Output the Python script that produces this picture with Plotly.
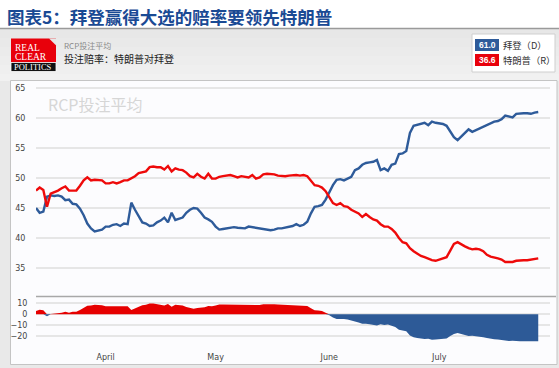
import numpy as np
import pandas as pd
import plotly.graph_objects as go

# ---------------- data ----------------
start_date = "2020-03-13"
biden = [
    45.0, 44.2, 44.4, 46.9, 47.1, 47.0, 47.1, 46.9, 46.3, 46.4,
    45.7, 45.6, 44.9, 43.8, 42.4, 41.6, 41.1, 41.3, 41.4, 41.9,
    41.9, 42.2, 42.3, 42.0, 42.4, 42.3, 45.9, 44.7, 43.7, 42.6,
    42.4, 42.0, 42.1, 42.6, 42.9, 43.4, 42.6, 44.2, 43.0, 43.2,
    43.4, 44.2, 44.7, 45.0, 44.9, 44.2, 43.4, 43.1, 42.7, 41.9,
    41.4, 41.5, 41.6, 41.7, 41.8, 41.7, 41.6, 41.6, 41.9, 41.8,
    41.7, 41.6, 41.4, 41.3, 41.3, 41.4, 41.6, 41.6, 41.7, 41.9,
    42.0, 42.3, 42.0, 42.2, 42.7, 44.1, 45.2, 45.3, 45.5, 46.4,
    47.6, 48.8, 49.7, 49.8, 49.6, 49.9, 50.2, 51.3, 51.6, 52.2,
    52.5, 52.6, 52.7, 53.0, 51.3, 51.6, 51.2, 52.2, 52.4, 54.0,
    54.1, 54.5, 57.5, 58.7, 58.9, 59.1, 59.2, 58.8, 59.4, 59.2,
    59.1, 59.0, 58.7, 57.7, 56.8, 56.3, 56.9, 57.6, 58.1, 57.7,
    58.0, 58.3, 58.6, 58.8, 59.2, 59.4, 59.5, 59.8, 60.4, 60.3,
    60.1, 60.7, 60.8, 60.8, 60.8, 60.7, 60.9, 61.0,
]
trump = [
    47.9, 48.4, 48.0, 45.2, 47.4, 47.6, 47.9, 48.3, 48.6, 47.9,
    47.9, 47.9, 48.7, 49.6, 50.1, 49.6, 49.7, 49.7, 49.6, 49.1,
    49.1, 49.3, 49.1, 49.3, 49.6, 49.6, 49.9, 50.3, 50.8, 50.9,
    51.1, 51.8, 51.9, 51.8, 51.8, 51.4, 52.0, 51.1, 51.6, 51.4,
    51.3, 50.9, 50.3, 50.1, 50.7, 50.2, 49.9, 50.7, 49.9, 49.9,
    50.2, 50.3, 50.4, 50.5, 50.3, 50.1, 50.3, 50.2, 50.1, 50.5,
    49.9, 50.1, 50.6, 50.7, 50.7, 50.6, 50.4, 50.3, 50.3, 50.4,
    50.5, 50.5, 50.4, 50.5, 50.3, 49.6, 48.8, 48.7, 48.4, 47.8,
    46.7, 45.8, 45.5, 45.8, 45.3, 45.2, 44.7, 44.4, 44.1, 43.5,
    44.0, 43.5, 43.1, 42.9, 42.3, 41.9, 41.9, 41.5, 40.9, 40.0,
    39.3, 39.1, 38.3, 37.8, 37.4, 37.0, 36.8, 36.5, 36.3, 36.2,
    36.4, 36.6, 36.8, 37.9, 39.0, 39.3, 38.9, 38.6, 38.3, 38.1,
    38.2, 38.1, 37.8, 37.2, 36.9, 36.8, 36.6, 36.4, 36.0, 36.0,
    36.0, 36.2, 36.3, 36.3, 36.3, 36.4, 36.5, 36.6,
]
month_ticks = ["2020-04-01", "2020-05-01", "2020-06-01", "2020-07-01"]
month_labels = ["April", "May", "June", "July"]
main_ticks = [35, 40, 45, 50, 55, 60, 65]
spread_ticks = [-20, -10, 0, 10]
latest_biden = "61.0"
latest_trump = "36.6"

dates = pd.date_range(start_date, periods=len(biden), freq="D")
spread = np.array(trump) - np.array(biden)
spread_pos = np.maximum(spread, 0)
spread_neg = np.minimum(spread, 0)

# ---------------- styling ----------------
W, H = 559, 368
BLUE = "#2E5B9A"
RED = "#EE0A0A"
CJK = "Noto Sans CJK SC"


def px(x):
    return x / W


def py(y):
    return 1 - y / H


fig = go.Figure()
fig.add_trace(go.Scatter(x=dates, y=biden, mode="lines", xaxis="x", yaxis="y",
                         line=dict(color=BLUE, width=2.4), hoverinfo="skip"))
fig.add_trace(go.Scatter(x=dates, y=trump, mode="lines", xaxis="x", yaxis="y",
                         line=dict(color=RED, width=2.4), hoverinfo="skip"))
fig.add_trace(go.Scatter(x=dates, y=spread_pos, mode="lines", xaxis="x", yaxis="y2",
                         line=dict(width=0, color=RED), fill="tozeroy",
                         fillcolor="#E60000", hoverinfo="skip"))
fig.add_trace(go.Scatter(x=dates, y=spread_neg, mode="lines", xaxis="x", yaxis="y2",
                         line=dict(width=0, color=BLUE), fill="tozeroy",
                         fillcolor="#2D5A97", hoverinfo="skip"))

shapes = []
# title area (white) and underline
shapes.append(dict(type="rect", xref="paper", yref="paper", x0=0, x1=1, y0=py(28), y1=1,
                   fillcolor="white", line=dict(width=0), layer="below"))
# header gradient
bands = ["#E7E7E7", "#E9E9E9", "#EBEBEB", "#EDEDED", "#EFEFEF", "#F1F1F1"]
for i, c in enumerate(bands):
    y0 = 29 + i * 9
    shapes.append(dict(type="rect", xref="paper", yref="paper", x0=0, x1=1,
                       y0=py(min(y0 + 9, 81)), y1=py(y0), fillcolor=c,
                       line=dict(width=0), layer="below"))
shapes.append(dict(type="line", xref="paper", yref="paper", x0=0, x1=1,
                   y0=py(28.5), y1=py(28.5), line=dict(color="#9A9A9A", width=1.5)))
# chart white box
shapes.append(dict(type="rect", xref="paper", yref="paper", x0=px(10.5), x1=px(557),
                   y0=py(364.5), y1=py(80.5), fillcolor="#FCFCFE",
                   line=dict(color="#C4C4C4", width=1), layer="below"))
# separator between panels
shapes.append(dict(type="line", xref="paper", yref="paper", x0=px(36), x1=px(556),
                   y0=py(296.5), y1=py(296.5), line=dict(color="#A8A8A8", width=1.5)))
# logo
shapes.append(dict(type="rect", xref="paper", yref="paper", x0=px(11), x1=px(56),
                   y0=py(62.5), y1=py(38.5), fillcolor="#E8000B", line=dict(width=0)))
shapes.append(dict(type="path", xref="paper", yref="paper",
                   path=f"M {px(49)},{py(38.5)} L {px(56.2)},{py(38.5)} L {px(56.2)},{py(45.5)} Z",
                   fillcolor="#E7E7E7", line=dict(width=0)))
shapes.append(dict(type="rect", xref="paper", yref="paper", x0=px(11), x1=px(56),
                   y0=py(71.5), y1=py(62.5), fillcolor="#111111",
                   line=dict(color="white", width=0.8)))
# legend box
shapes.append(dict(type="rect", xref="paper", yref="paper", x0=px(472), x1=px(555),
                   y0=py(72), y1=py(34), fillcolor="white", line=dict(color="#CFCFCF", width=1)))
shapes.append(dict(type="rect", xref="paper", yref="paper", x0=px(475), x1=px(499),
                   y0=py(51), y1=py(39), fillcolor=BLUE, line=dict(width=0)))
shapes.append(dict(type="rect", xref="paper", yref="paper", x0=px(475), x1=px(499),
                   y0=py(66), y1=py(54), fillcolor="#E8000B", line=dict(width=0)))


def txt(x, y, s, size, color, family=CJK, anchor="left"):
    return dict(x=px(x), y=py(y), xref="paper", yref="paper", text=s, showarrow=False,
                xanchor=anchor, yanchor="middle",
                font=dict(size=size, color=color, family=family))


annotations = [
    txt(5, 16.5, "<b>图表5：拜登赢得大选的赔率要领先特朗普</b>", 17.5, "#1A4A94"),
    txt(62, 45.5, "RCP投注平均", 8, "#8A8A8A"),
    txt(62, 58, "投注赔率：特朗普对拜登", 10, "#222222"),
    txt(12.5, 47.5, "REAL", 9.5, "white", "Liberation Serif"),
    txt(12.5, 57, "CLEAR", 9.5, "white", "Liberation Serif"),
    txt(12, 67, "POLITICS", 8.5, "white", "Liberation Serif"),
    txt(487, 45, "<b>" + latest_biden + "</b>", 8.5, "white", "Liberation Sans", "center"),
    txt(487, 60, "<b>" + latest_trump + "</b>", 8.5, "white", "Liberation Sans", "center"),
    txt(501, 45, "拜登（D）", 9.3, "#333333"),
    txt(501, 60, "特朗普（R）", 9.3, "#333333"),
    txt(46, 104, "RCP投注平均", 16, "#D6D6D6"),
]

tickfont = dict(size=8, color="#444444", family="DejaVu Sans")

fig.update_layout(
    width=W, height=H,
    margin=dict(l=0, r=0, t=0, b=0),
    paper_bgcolor="#E9E9E9",
    plot_bgcolor="rgba(0,0,0,0)",
    showlegend=False,
    shapes=shapes,
    annotations=annotations,
    xaxis=dict(domain=[px(36), px(550)], anchor="y2", type="date",
               range=["2020-03-13", "2020-07-31 05:00"],
               tickvals=month_ticks, ticktext=month_labels,
               showgrid=False, zeroline=False, showline=False,
               ticks="outside", ticklen=3, tickcolor="rgba(0,0,0,0)",
               tickfont=tickfont),
    yaxis=dict(domain=[py(296), py(82)], range=[30.33, 66], tickvals=main_ticks,
               showgrid=True, gridcolor="#E6E6E6", gridwidth=1.5, zeroline=False,
               showline=False, ticks="outside", ticklen=8, tickcolor="rgba(0,0,0,0)",
               tickfont=tickfont),
    yaxis2=dict(domain=[py(346), py(297)], range=[-28.8, 15.7], tickvals=spread_ticks,
                showgrid=True, gridcolor="#E6E6E6", gridwidth=1.5, zeroline=False,
                showline=False, ticks="outside", ticklen=6, tickcolor="rgba(0,0,0,0)",
                tickfont=tickfont),
)

fig.write_html(
    "out.html",
    config={"displayModeBar": False},
    post_script="document.body.style.margin='0';document.body.style.overflow='hidden';",
)
